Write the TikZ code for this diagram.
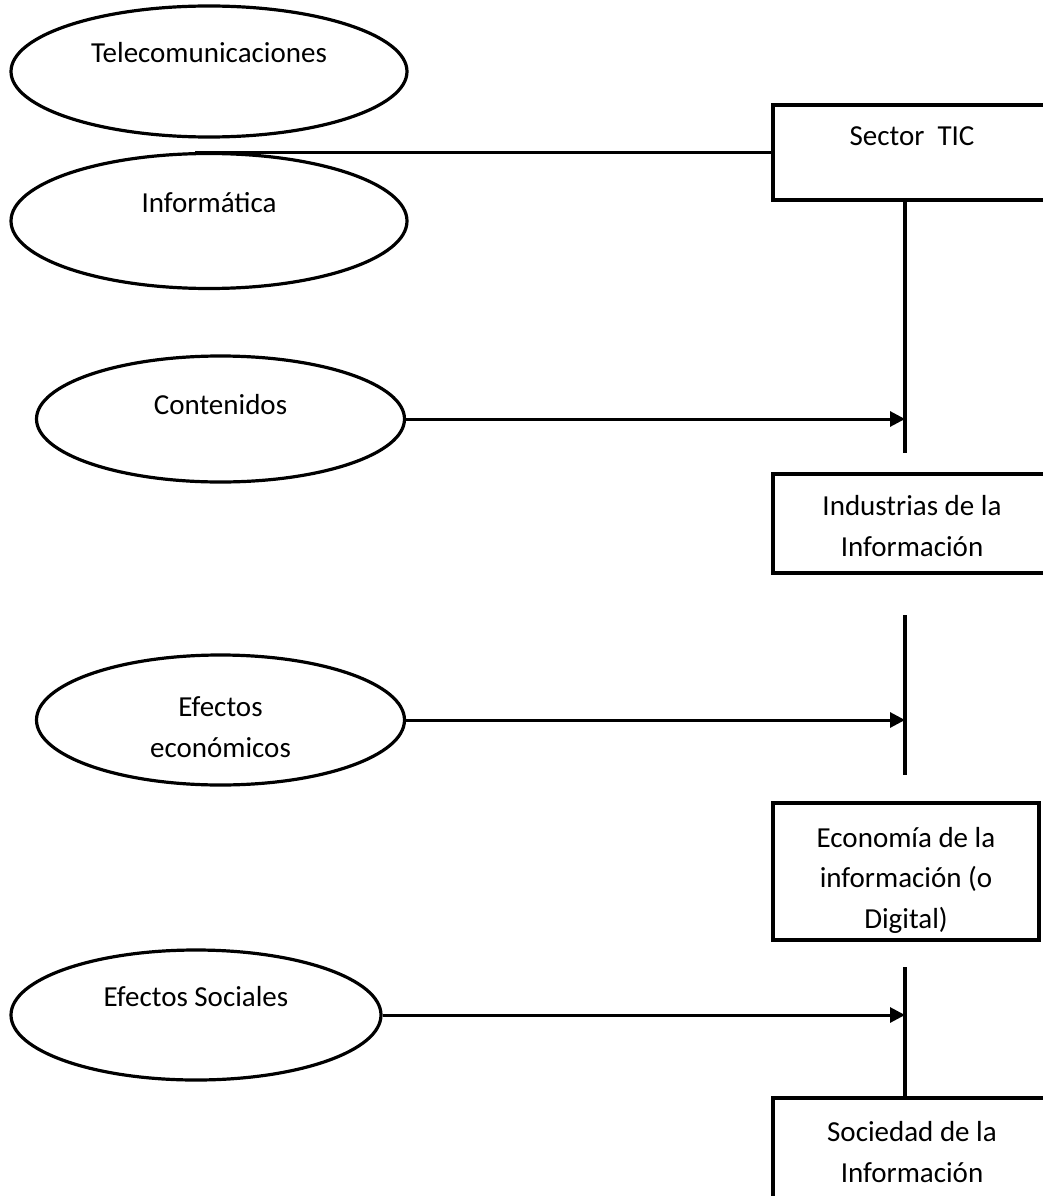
\documentclass[tikz,border=0pt]{standalone}
\usepackage{fontspec}
\setmainfont{Carlito}
\usetikzlibrary{shapes.geometric,arrows.meta}
\begin{document}
\begin{tikzpicture}[x=1pt,y=-1pt,
  ell/.style={draw,ellipse,line width=3.2pt,inner sep=0pt},
  boxr/.style={draw,rectangle,line width=4pt,inner sep=0pt},
  lbl/.style={font=\fontsize{29}{40.5}\selectfont,align=center,anchor=base,inner sep=0pt},
  conn/.style={line width=3pt},
  arr/.style={line width=3pt,-{Triangle[length=15pt,width=15pt]}},
  vline/.style={line width=3.5pt}]
\useasboundingbox (0,0) rectangle (1043,1196);
\clip (0,0) rectangle (1043,1196);

% ellipses (multi-line labels: base = last line)
\node[ell,minimum width=396pt,minimum height=131pt] (tel) at (209,71.5) {};
\node[lbl] (telt) at (209,63) {Telecomunicaciones};
\node[ell,minimum width=396pt,minimum height=135pt] (inf) at (209,221) {};
\node[lbl] (inft) at (209,212) {Informática};
\node[ell,minimum width=368pt,minimum height=126pt] (con) at (220.5,419) {};
\node[lbl] (cont) at (220.5,414) {Contenidos};
\node[ell,minimum width=368pt,minimum height=130pt] (eco) at (220.5,720) {};
\node[lbl] (ecot) at (220.5,757) {Efectos\\económicos};
\node[ell,minimum width=370pt,minimum height=130pt] (soc) at (196,1015) {};
\node[lbl] (soct) at (196,1006) {Efectos Sociales};

% boxes
\node[boxr,minimum width=278pt,minimum height=95pt] (tic) at (912,152.5) {};
\node[lbl] (tict) at (912,146) {Sector\ \ TIC};
\node[boxr,minimum width=278pt,minimum height=99pt] (ind) at (912,523.5) {};
\node[lbl] (indt) at (912,556) {Industrias de la\\Información};
\node[boxr,minimum width=266pt,minimum height=137pt] (ecn) at (906,871.5) {};
\node[lbl] (ecnt) at (906,928) {Economía de la\\información (o\\Digital)};
\node[boxr,minimum width=278pt,minimum height=122pt] (sdi) at (912,1159) {};
\node[lbl] (sdit) at (912,1182) {Sociedad de la\\Información};

% junction coordinates
\coordinate (v1) at (905,453);
\coordinate (v2a) at (905,615);
\coordinate (v2b) at (905,775);
\coordinate (v3) at (905,967);

% connectors
\draw[conn] (tic.west) -- ([xshift=-14pt]tic.west -| inf.north);
\draw[vline] (v1 |- tic.south) -- (v1);
\draw[arr] (con.east) -- (con.east -| v1);
\draw[vline] (v2a) -- (v2b);
\draw[arr] (eco.east) -- (eco.east -| v2a);
\draw[vline] (v3) -- (v3 |- sdi.north);
\draw[arr] (soc.east) -- (soc.east -| v3);
\end{tikzpicture}
\end{document}
